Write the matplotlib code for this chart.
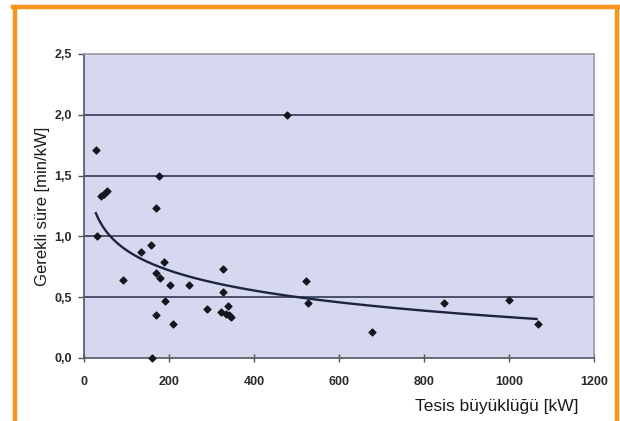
import numpy as np
import matplotlib.pyplot as plt
from matplotlib.lines import Line2D

# measured points (plant size kW, required time min/kW)
size_kw = [28, 30, 40, 48, 55, 92, 134, 157, 169, 176, 188, 169, 178, 202,
           248, 190, 169, 209, 160, 289, 327, 327, 338, 322, 333, 340, 347,
           477, 523, 526, 678, 847, 1000, 1068]
time_min = [1.71, 1.0, 1.33, 1.35, 1.37, 0.64, 0.87, 0.93, 1.23, 1.5, 0.79,
            0.70, 0.66, 0.60, 0.60, 0.47, 0.35, 0.28, 0.0, 0.40, 0.73, 0.54,
            0.43, 0.38, 0.36, 0.35, 0.34, 2.0, 0.63, 0.45, 0.21, 0.45, 0.48,
            0.28]

# logarithmic trend line: y = a + b*ln(x)
trend_a = 1.987
trend_b = -0.239
trend_range = [28, 1065]

x_ticks = [0, 200, 400, 600, 800, 1000, 1200]
y_ticks = [0.0, 0.5, 1.0, 1.5, 2.0, 2.5]
y_labels = ['0,0', '0,5', '1,0', '1,5', '2,0', '2,5']

plt.rcParams['font.family'] = ['Liberation Sans', 'DejaVu Sans']

fig = plt.figure(figsize=(6.2, 4.21), dpi=100)
ax = fig.add_axes([84 / 620, 1 - 358 / 421, 510 / 620, 304 / 421])
ax.set_facecolor('#d5d8ee')

for v in y_ticks[1:-1]:
    ax.axhline(v, color='#343a52', lw=1.2, zorder=1)

tx = np.linspace(trend_range[0], trend_range[1], 200)
ax.plot(tx, trend_a + trend_b * np.log(tx), color='#1c2440', lw=1.7, zorder=2)
ax.scatter(size_kw, time_min, marker='D', s=12, color='#15161e', zorder=3,
           clip_on=False)

ax.set_xlim(0, 1200)
ax.set_ylim(0, 2.5)
ax.set_xticks(x_ticks)
ax.set_yticks(y_ticks)
ax.set_yticklabels(y_labels)
ax.tick_params(axis='both', labelsize=9, length=4, width=1, color='#555555',
               pad=5)
for lbl in ax.get_xticklabels() + ax.get_yticklabels():
    lbl.set_fontweight('bold')
    lbl.set_color('#2a2a2a')
ax.tick_params(axis='x', direction='inout', length=6, pad=10)

for side in ['top', 'right']:
    ax.spines[side].set_color('#9a9aa6')
    ax.spines[side].set_linewidth(1.2)
for side in ['left', 'bottom']:
    ax.spines[side].set_color('#555560')
    ax.spines[side].set_linewidth(1.2)

ax.set_ylabel('Gerekli süre [min/kW]', fontsize=12, color='#1a1a1a', labelpad=3)
fig.text(497 / 620, 1 - 406 / 421, 'Tesis büyüklüğü [kW]', fontsize=12.5,
         color='#1a1a1a', ha='center', va='center')

# orange frame (open at the bottom)
orange = '#f7941d'
fig.add_artist(Line2D([14.5 / 620, 14.5 / 620], [0, 1 - 7 / 421],
                      transform=fig.transFigure, color=orange, lw=3.2))
fig.add_artist(Line2D([617 / 620, 617 / 620], [0, 1 - 7 / 421],
                      transform=fig.transFigure, color=orange, lw=3.2))
fig.add_artist(Line2D([13 / 620, 618.5 / 620], [1 - 7 / 421, 1 - 7 / 421],
                      transform=fig.transFigure, color=orange, lw=3.2))

fig.savefig('out.png', dpi=100)
